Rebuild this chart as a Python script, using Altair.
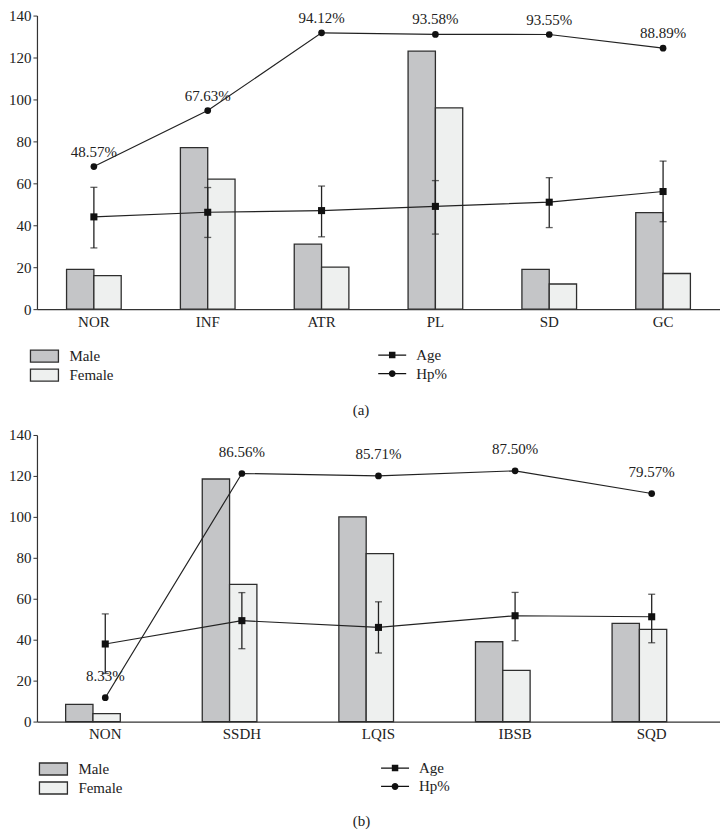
import altair as alt
import pandas as pd

FONT = "Liberation Serif"
INK = "#222222"

# ---- panel (a) data ----
cats_a = ["NOR", "INF", "ATR", "PL", "SD", "GC"]
male_a = [19, 77, 31, 123, 19, 46]
female_a = [16, 62, 20, 96, 12, 17]
age_a = [44, 46.2, 47, 49, 51, 56.1]
age_lo_a = [29.2, 34.2, 34.5, 35.8, 38.9, 41.7]
age_hi_a = [58.1, 58, 58.7, 61.3, 62.7, 70.6]
hp_a = [48.57, 67.63, 94.12, 93.58, 93.55, 88.89]

# ---- panel (b) data ----
cats_b = ["NON", "SSDH", "LQIS", "IBSB", "SQD"]
male_b = [8.4, 118.5, 100, 39, 48]
female_b = [3.9, 67, 82, 25, 45]
age_b = [37.9, 49.3, 46, 51.7, 51.2]
age_lo_b = [23.5, 35.6, 33.5, 39.5, 38.5]
age_hi_b = [52.6, 63, 58.5, 63.1, 62.2]
hp_b = [8.33, 86.56, 85.71, 87.50, 79.57]

sexes = ["Male", "Female"]
series = ["Age", "Hp%"]
y_ticks = [0, 20, 40, 60, 80, 100, 120, 140]

# legend glyphs (unit paths, scaled by the legend symbol size)
RECT = "M-1.556,-0.667H1.556V0.667H-1.556Z"
SQ = "M-1.556,-0.07H1.556V0.07H-1.556Z M-0.36,-0.36H0.36V0.36H-0.36Z"
CIRC = ("M-1.556,-0.07H1.556V0.07H-1.556Z "
        "M0.38,0A0.38,0.38 0 1 1 -0.38,0A0.38,0.38 0 1 1 0.38,0Z")


def panel(cats, male, female, age, lo, hi, hp, width, height, pin, pout,
          label_dy, lx1, lx2, ly, caption, cap_dx, cap_off, min_ext):
    bars = pd.DataFrame({
        "cat": cats * 2,
        "sex": ["Male"] * len(cats) + ["Female"] * len(cats),
        "count": male + female,
    })
    pts = pd.DataFrame({
        "cat": cats, "age": age, "lo": lo, "hi": hi, "hp": hp,
        "label": [f"{v:.2f}%" for v in hp],
    })
    leg = pd.DataFrame({"series": series})

    x = alt.X("cat:N", sort=cats, title=None,
              scale=alt.Scale(domain=cats, paddingInner=pin, paddingOuter=pout),
              axis=alt.Axis(ticks=False, labelAngle=0, labelPadding=5, grid=False,
                            domainColor="#333333", domainWidth=1.2))
    yax = alt.Axis(values=y_ticks, grid=False, tickSize=4, labelPadding=2,
                   domainColor="#333333", tickColor="#333333", domainWidth=1.2,
                   minExtent=min_ext, maxExtent=min_ext)
    ysc = alt.Scale(domain=[0, 140], nice=False)

    bar = alt.Chart(bars).mark_bar(stroke="#2e2e2e", strokeWidth=1.3).encode(
        x=x,
        xOffset=alt.XOffset("sex:N", sort=sexes,
                            scale=alt.Scale(domain=sexes, paddingInner=0, paddingOuter=0)),
        y=alt.Y("count:Q", scale=ysc, axis=yax, title=None),
        fill=alt.Fill("sex:N", sort=sexes,
                      scale=alt.Scale(domain=sexes, range=["#c4c5c7", "#eef0ef"]),
                      legend=alt.Legend(orient="none", legendX=lx1, legendY=ly, title=None,
                                        symbolType=RECT, symbolSize=324,
                                        symbolStrokeColor="#2e2e2e", symbolStrokeWidth=1.3,
                                        labelFont=FONT, labelFontSize=15, labelColor=INK,
                                        labelOffset=15, rowPadding=0)),
    )
    base = alt.Chart(pts)
    err = base.mark_rule(color="#222222", strokeWidth=1.3).encode(
        x=x, y=alt.Y("lo:Q", scale=ysc, axis=yax, title=None), y2="hi:Q")
    cap_lo = base.mark_tick(color="#222222", size=7, thickness=1.3).encode(
        x=x, y=alt.Y("lo:Q", scale=ysc, axis=yax, title=None))
    cap_hi = base.mark_tick(color="#222222", size=7, thickness=1.3).encode(
        x=x, y=alt.Y("hi:Q", scale=ysc, axis=yax, title=None))
    age_line = base.mark_line(color="#222222", strokeWidth=1.2).encode(
        x=x, y=alt.Y("age:Q", scale=ysc, axis=yax, title=None))
    age_pts = base.mark_point(shape="square", filled=True, color="#111111",
                              size=50, opacity=1).encode(
        x=x, y=alt.Y("age:Q", scale=ysc, axis=yax, title=None))
    legend_layer = alt.Chart(leg).mark_point(filled=True, color="#111111",
                                             strokeWidth=0, opacity=0).encode(
        shape=alt.Shape("series:N", sort=series,
                        scale=alt.Scale(domain=series, range=[SQ, CIRC]),
                        legend=alt.Legend(orient="none", legendX=lx2, legendY=ly, title=None,
                                          symbolSize=324, symbolOpacity=1,
                                          symbolFillColor="#111111", symbolStrokeWidth=0,
                                          labelFont=FONT, labelFontSize=15, labelColor=INK,
                                          labelOffset=15, rowPadding=1.5)),
    )
    left = alt.layer(bar, err, cap_lo, cap_hi, age_line, age_pts, legend_layer)

    ysc2 = alt.Scale(domain=[0, 100], nice=False)
    hp_line = base.mark_line(color="#222222", strokeWidth=1.2).encode(
        x=x, y=alt.Y("hp:Q", scale=ysc2, axis=None))
    hp_pts = base.mark_circle(color="#111111", size=45, opacity=1).encode(
        x=x, y=alt.Y("hp:Q", scale=ysc2, axis=None))
    hp_txt = base.mark_text(font=FONT, fontSize=15, color=INK, dy=label_dy,
                            baseline="middle").encode(
        x=x, y=alt.Y("hp:Q", scale=ysc2, axis=None), text="label:N")
    right = alt.layer(hp_line, hp_pts, hp_txt)

    return alt.layer(left, right).resolve_scale(y="independent").properties(
        width=width, height=height,
        title=alt.TitleParams(caption, orient="bottom", anchor="middle", font=FONT,
                              fontSize=15, fontWeight="normal", color=INK,
                              offset=cap_off, dx=cap_dx),
    )


top = panel(cats_a, male_a, female_a, age_a, age_lo_a, age_hi_a, hp_a,
            684, 294, 0.52, 0.26, -15, -2.5, 346.75, 331, "(a)", -17.5, 19, 28)
bottom = panel(cats_b, male_b, female_b, age_b, age_lo_b, age_hi_b, hp_b,
               684, 287, 0.42, 0.21, -22, 6.5, 349.6, 324.5, "(b)", -17, 17, 28)

chart = alt.vconcat(top, bottom, spacing=10).resolve_scale(
    fill="independent", shape="independent"
).resolve_legend(fill="independent", shape="independent").configure_axis(
    labelFont=FONT, labelFontSize=15, labelColor=INK
).configure_view(strokeWidth=0).properties(padding=0)

chart.save("out.html", embed_options={"renderer": "svg", "actions": False})
